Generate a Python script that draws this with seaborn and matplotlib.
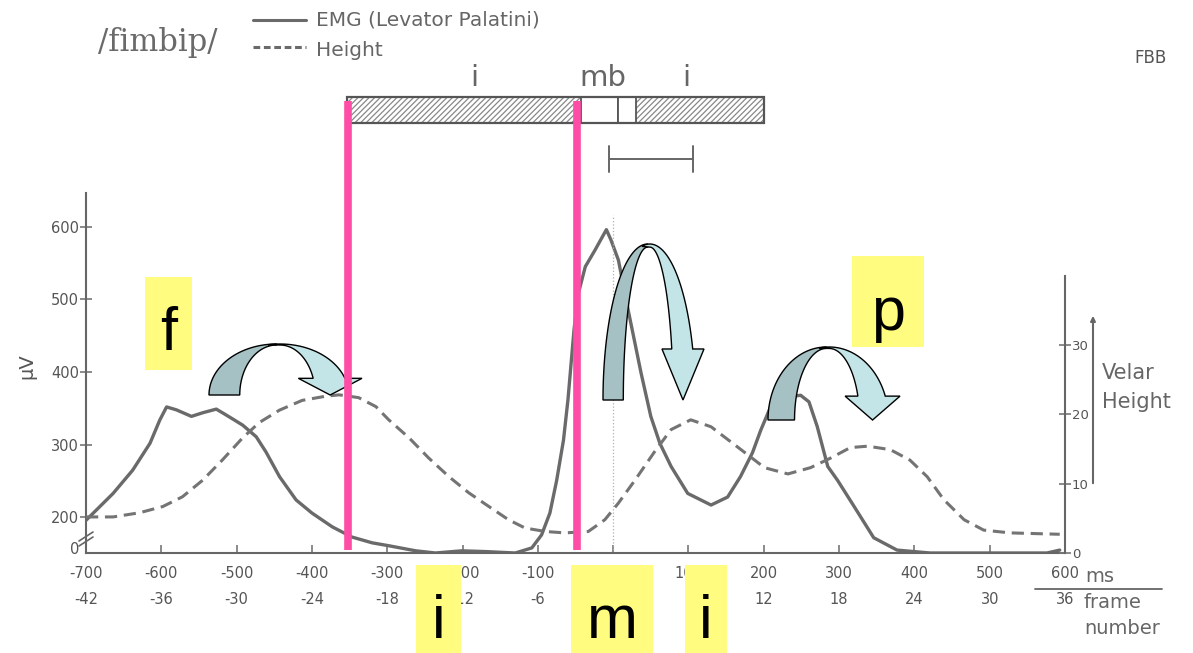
import numpy as np
import matplotlib
matplotlib.use("Agg")
import matplotlib.pyplot as plt
import matplotlib.transforms as mtransforms
from matplotlib.patches import Polygon, Rectangle
import seaborn as sns

# ---------------- data ----------------
emg_ms = [-700, -664, -638, -615, -602, -593, -580, -560, -545, -527, -514, -492, -474, -461, -443,
          -421, -400, -373, -347, -320, -298, -262, -236, -201, -170, -130, -108, -95, -84, -75,
          -66, -60, -52, -46, -37, -24, -9, -3, 7, 20, 37, 50, 62, 77, 99, 130, 152, 169, 185, 196,
          209, 232, 249, 260, 271, 285, 298, 320, 346, 377, 421, 510, 576, 593]
emg_uv = [196, 233, 265, 302, 334, 352, 348, 339, 344, 349, 341, 327, 311, 290, 256,
          224, 206, 187, 173, 165, 161, 154, 151, 154, 153, 151, 158, 176, 206, 251,
          306, 362, 458, 509, 545, 568, 596, 582, 554, 485, 399, 339, 302, 270, 233, 217, 228, 256, 289, 320,
          352, 366, 368, 359, 325, 270, 251, 215, 172, 155, 151, 151, 151, 155]

hgt_ms = [-700, -664, -629, -598, -572, -545, -519, -492, -470, -443, -413, -382, -364, -338, -315, -298,
          -271, -245, -218, -192, -165, -139, -117, -90, -64, -33, -11, 7, 29, 55, 77, 103, 130, 165,
          201, 232, 262, 289, 315, 338, 368, 394, 417, 439, 466, 492, 527, 593]
hgt_val = [5.2, 5.2, 5.8, 6.7, 8.1, 10.5, 13.4, 16.6, 18.8, 20.6, 22.0, 22.6, 22.8, 22.4, 21.1, 19.2,
           16.6, 13.7, 11.0, 8.7, 6.7, 4.8, 3.6, 3.1, 2.9, 3.1, 4.8, 7.2, 10.5, 14.6, 17.8, 19.2, 18.2, 15.3,
           12.3, 11.4, 12.3, 13.7, 15.2, 15.4, 14.9, 13.4, 11.0, 7.7, 4.8, 3.3, 2.9, 2.7]

ms_ticks = [-700, -600, -500, -400, -300, -200, -100, 0, 100, 200, 300, 400, 500, 600]
ms_labels = ["-700", "-600", "-500", "-400", "-300", "-200", "-100", "0", "100", "200", "300", "400", "500", "600"]
frame_labels = ["-42", "-36", "-30", "-24", "-18", "-12", "-6", "0", "6", "12", "18", "24", "30", "36"]
frame_hidden = ["0", "6"]  # covered by the yellow label boxes in the reference
uv_ticks = [200, 300, 400, 500, 600]
hgt_ticks = [0, 10, 20, 30]

# segment bar above the plot (ms): hatched i, white m | b, hatched i
seg_hatched = [(-353, -43), (31, 200)]
seg_white = [(-43, 7), (7, 31)]
seg_labels = [("i", -184), ("mb", -13), ("i", 97)]
bracket_ms = (-5, 106)
pink_ms = [-352, -48]

# annotation overlays (figure pixels)
yellow_boxes = [("f", 145, 277, 47, 93, 350), ("p", 852, 256, 72, 91, 330),
                ("i", 416, 565, 45, 90, 638), ("m", 571, 565, 82, 90, 638), ("i", 685, 565, 42, 90, 638)]
curved_arrows = [(209, 362, 344, 395), (603, 704, 244, 400), (768, 900, 347, 420)]

# ---------------- style ----------------
sns.set_theme(style="white")
plt.rcParams['font.family'] = ['DejaVu Sans']
plt.rcParams['hatch.linewidth'] = 0.9

W, H = 1193, 653
fig = plt.figure(figsize=(W / 100, H / 100), dpi=100)
fig.patch.set_facecolor("white")

ax = fig.add_axes([86 / W, 1 - 553 / H, (1065 - 86) / W, (553 - 193) / H])
ax.set_facecolor("none")
ax2 = ax.twinx()

gray = "#6a6a6a"
txt = "#555555"

sns.lineplot(x=emg_ms, y=emg_uv, ax=ax, color=gray, lw=2.4, estimator=None, sort=False, legend=False)
sns.lineplot(x=hgt_ms, y=hgt_val, ax=ax2, color="#747474", lw=2.2, estimator=None, sort=False,
             legend=False, linestyle=(0, (4, 2.2)))

ax.set_xlim(-700, 596)
ax.set_ylim(151, 646.4)
ax2.set_ylim(0, 51.9)
ax2.set_xlim(-700, 596)

ax.vlines(0, 151, 616, colors="#b0b0b0", linestyles=":", lw=0.9)

for a in (ax, ax2):
    for s in a.spines.values():
        s.set_visible(False)
    a.grid(False)
    a.set_xlabel("")
    a.set_ylabel("")

ax.spines['left'].set_visible(True)
ax.spines['bottom'].set_visible(True)
for s in ('left', 'bottom'):
    ax.spines[s].set_color("#666666")
    ax.spines[s].set_linewidth(1.5)
ax2.spines['right'].set_visible(True)
ax2.spines['right'].set_color("#666666")
ax2.spines['right'].set_linewidth(1.5)
ax2.spines['right'].set_bounds(0, 40)

ax.set_xticks(ms_ticks)
ax.set_xticklabels(ms_labels)
ax.set_yticks(uv_ticks)
ax.set_yticklabels([str(v) for v in uv_ticks])
ax.tick_params(axis='x', direction='in', length=6, width=1.2, color="#777777", labelsize=10.5,
               labelcolor=txt, pad=9, bottom=True)
ax.tick_params(axis='y', direction='inout', length=8, width=1.2, color="#777777", labelsize=10.5,
               labelcolor=txt, pad=1, left=True)
ax2.set_yticks(hgt_ticks)
ax2.set_yticklabels([str(v) for v in hgt_ticks])
ax2.tick_params(axis='y', direction='inout', length=8, width=1.2, color="#777777", labelsize=9.5,
                labelcolor=txt, pad=1, right=True)

# ---------------- overlay ----------------
ov = fig.add_axes([0, 0, 1, 1], zorder=10)
ov.set_xlim(0, W)
ov.set_ylim(H, 0)
ov.axis("off")
ov.patch.set_alpha(0)
bt = mtransforms.blended_transform_factory(ax.transData, ov.transData)

# frame number row
for m, lab in zip(ms_ticks, frame_labels):
    if lab in frame_hidden:
        continue
    ov.text(m, 600, lab, transform=bt, ha="center", va="center", fontsize=10.5, color=txt)

ov.text(1100, 576, "ms", ha="center", va="center", fontsize=14, color="#666666")
ov.plot([1035, 1162], [589, 589], color="#666666", lw=1.3)
ov.text(1084, 602, "frame", ha="left", va="center", fontsize=14, color="#666666")
ov.text(1084, 628, "number", ha="left", va="center", fontsize=14, color="#666666")

# axis labels
ov.text(27, 366, "µV", rotation=90, ha="center", va="center", fontsize=14, color=txt)
ov.text(75, 549, "0", ha="center", va="center", fontsize=10.5, color=txt)
ov.plot([79, 93], [541, 532], color="#666666", lw=1.2)
ov.plot([79, 93], [546, 537], color="#666666", lw=1.2)
ov.annotate("", xy=(1093, 313), xytext=(1093, 486),
            arrowprops=dict(arrowstyle="-|>", lw=1.5, color="#666666", mutation_scale=7))
ov.text(1102, 373, "Velar", ha="left", va="center", fontsize=15, color="#666666")
ov.text(1102, 402, "Height", ha="left", va="center", fontsize=15, color="#666666")
ov.text(1150, 58, "FBB", ha="center", va="center", fontsize=12, color="#555555")

# title & legend
ov.text(98, 42, "/fimbip/", ha="left", va="center", fontsize=22, color="#6a6a6a", family="DejaVu Serif")
ov.plot([253, 306], [20, 20], color=gray, lw=2.2)
ov.plot([253, 306], [47, 47], color=gray, lw=2.2, linestyle=(0, (2.2, 1.2)))
ov.text(316, 20, "EMG (Levator Palatini)", ha="left", va="center", fontsize=14.5, color="#666666")
ov.text(316, 50, "Height", ha="left", va="center", fontsize=14.5, color="#666666")

# segment bar
for a, b in seg_hatched:
    ov.add_patch(Rectangle((a, 97), b - a, 26, transform=bt, facecolor="white", edgecolor="#888888",
                           hatch="//////", lw=0))
for a, b in seg_white:
    ov.add_patch(Rectangle((a, 97), b - a, 26, transform=bt, facecolor="white", edgecolor="#555555", lw=1.3))
ov.add_patch(Rectangle((seg_hatched[0][0], 97), seg_hatched[1][1] - seg_hatched[0][0], 26, transform=bt,
                       facecolor="none", edgecolor="#555555", lw=1.6))
for lab, m in seg_labels:
    ov.text(m, 78, lab, transform=bt, ha="center", va="center", fontsize=21, color="#666666")
ov.plot([bracket_ms[0], bracket_ms[1]], [159, 159], transform=bt, color="#666666", lw=1.4)
for m in bracket_ms:
    ov.plot([m, m], [146, 172], transform=bt, color="#666666", lw=1.4)


# curved arrows
def curved_arrow(axis, x0, x1, ytop, ybot):
    w, h = x1 - x0, ybot - ytop

    def P(u, v):
        return (x0 + u * w, ybot - v * h)
    th = np.linspace(np.pi, np.pi / 2, 50)
    outer = [(0.442 + 0.442 * np.cos(t), np.sin(t)) for t in th]
    inner = [(0.442 + 0.241 * np.cos(t), 0.98 * np.sin(t)) for t in th[::-1]]
    dark = [P(u, v) for u, v in outer + inner]
    vb = 0.327
    th_o = np.linspace(np.radians(100), np.arcsin(vb), 50)
    outer_l = [(0.464 + 0.449 * np.cos(t), np.sin(t)) for t in th_o]
    th_i = np.linspace(np.arcsin(vb / 0.98), np.pi / 2, 50)
    inner_l = [(0.464 + 0.230 * np.cos(t), 0.98 * np.sin(t)) for t in th_i]
    head = [(1.0, vb), (0.792, 0.0), (0.584, vb)]
    light = [P(u, v) for u, v in outer_l + head + inner_l]
    axis.add_patch(Polygon(dark, closed=True, facecolor="#A5C1C3", edgecolor="black", lw=1.0, zorder=3))
    axis.add_patch(Polygon(light, closed=True, facecolor="#C4E5E7", edgecolor="black", lw=1.0, zorder=3))


for a in curved_arrows:
    curved_arrow(ov, *a)

# pink lines
for m in pink_ms:
    ov.plot([m, m], [101, 550], transform=bt, color="#FF4DA6", lw=5.5, solid_capstyle="butt", zorder=4)

# yellow label boxes
for lab, x, y, bw, bh, base in yellow_boxes:
    ov.add_patch(Rectangle((x, y), bw, bh, facecolor="#FFFC7F", edgecolor="none", zorder=5))
    ov.text(x + bw / 2, base, lab, ha="center", va="baseline", fontsize=44, color="black",
            family="Liberation Sans", zorder=6)

fig.savefig("out.png", dpi=100, facecolor="white")
